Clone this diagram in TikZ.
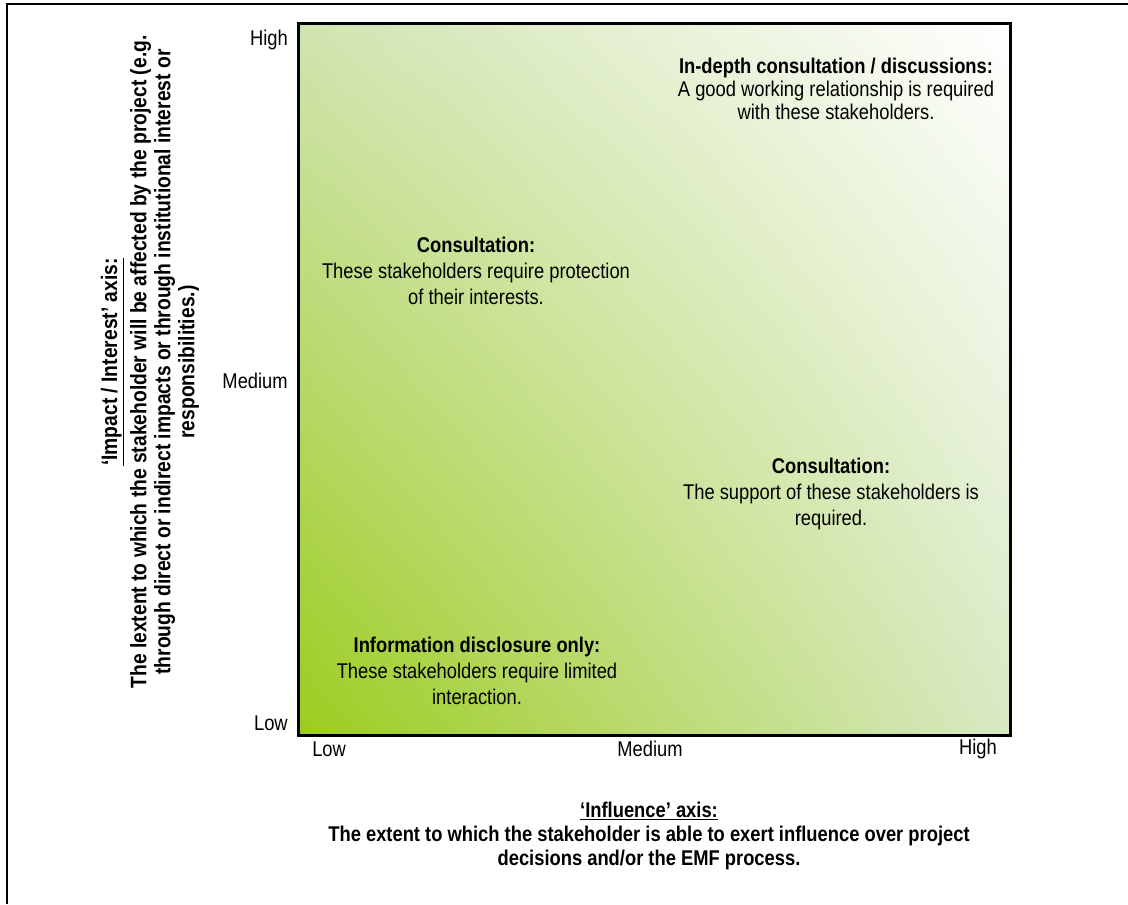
\documentclass[tikz,border=0pt]{standalone}
\usepackage{fontspec}
\setmainfont[FakeStretch=0.86]{Liberation Sans}
\usetikzlibrary{positioning,shadings}
\definecolor{leafgreen}{HTML}{9CCC1E}
\definecolor{paleleft}{HTML}{D0E4B0}
\definecolor{paleright}{HTML}{D8E9C4}
\tikzset{
  plotbox/.style={draw,shade,line width=2.25pt,inner sep=0pt,outer sep=0pt,
    minimum width=534pt,minimum height=534pt,
    upper left=paleleft,upper right=white,lower left=leafgreen,lower right=paleright},
  ticklbl/.style={inner sep=0pt,font=\fontsize{16}{18}\selectfont},
  quad/.style={align=center,inner sep=0pt,font=\fontsize{16}{#1}\selectfont},
  axistitle/.style={align=center,inner sep=0pt,font=\fontsize{#1}{18}\selectfont\bfseries}
}
\begin{document}
\begin{tikzpicture}[x=0.75pt,y=-0.75pt]
\useasboundingbox (0,0) rectangle (1128,904);

% outer frame
\draw[line width=1.5pt] (7,904) -- (7,4) -- (1128,4);

% matrix area
\node[plotbox] (grid) at (654,379) {};

% scale labels
\node[ticklbl,anchor=east] (yhigh) at (288,40) {High};
\node[ticklbl,anchor=east] (ymed) at (288,381) {Medium};
\node[ticklbl,anchor=east] (ylow) at (288,723) {Low};
\node[ticklbl,anchor=west] (xlow) at (312,749) {Low};
\node[ticklbl] (xmed) at (650,749) {Medium};
\node[ticklbl,anchor=east] (xhigh) at (997,749) {High};

% quadrants
\node[quad=17.25pt] (indepth) at (836,89)
  {{\bfseries In-depth consultation / discussions:}\\A good working relationship is required\\with these stakeholders.};
\node[quad=19.5pt] (consultA) at (476,271)
  {{\bfseries Consultation:}\\These stakeholders require protection\\of their interests.};
\node[quad=19.5pt] (consultB) at (831,494)
  {{\bfseries Consultation:}\\The support of these stakeholders is\\required.};
\node[quad=19.5pt] (disclose) at (477,671)
  {{\bfseries Information disclosure only:}\\These stakeholders require limited\\interaction.};

% axis titles
\node[axistitle=16.8,rotate=90] (impact) at (150,362)
  {\underline{`Impact / Interest' axis:}\\[4pt]
   The lextent to which the stakeholder will be affected by the project (e.g.\\
   through direct or indirect impacts or through institutional interest or\\
   responsibilities.)};
\node[axistitle=16] (influence) at (649,836)
  {\underline{`Influence' axis:}\\
   The extent to which the stakeholder is able to exert influence over project\\
   decisions and/or the EMF process.};
\end{tikzpicture}
\end{document}
